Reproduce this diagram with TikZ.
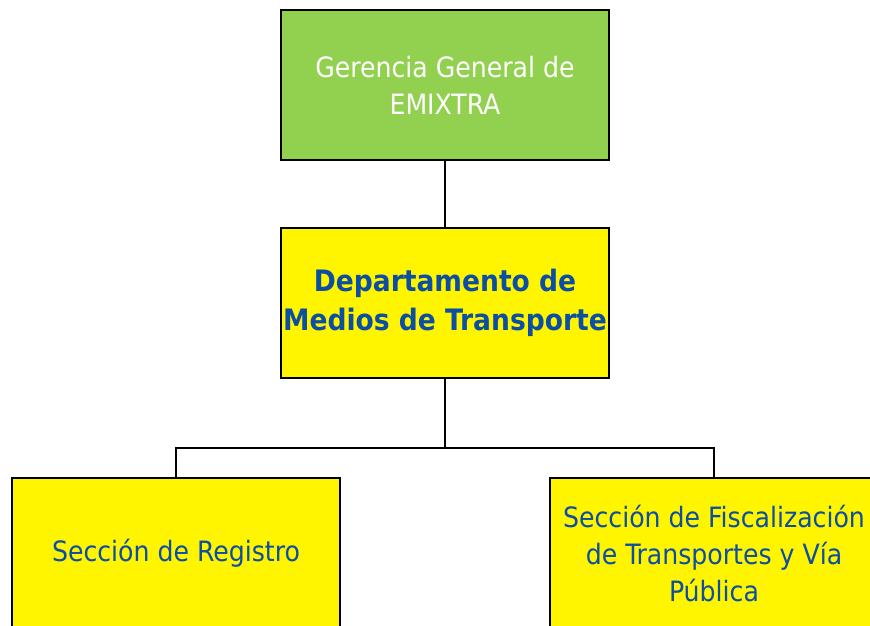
\documentclass[tikz,border=0pt]{standalone}
\usepackage{fontspec}
\setmainfont{DejaVu Sans Condensed}
\usepackage{xcolor}
\usetikzlibrary{positioning,calc}
\definecolor{boxgreen}{HTML}{92D050}
\definecolor{boxyellow}{HTML}{FFF500}
\definecolor{textblue}{HTML}{0B4EA2}

\begin{document}
\begin{tikzpicture}[x=1pt, y=-1pt,
    unit/.style={rectangle, draw=black, line width=1.6pt, minimum width=328pt, minimum height=150pt, inner sep=0pt, align=center, font=\fontsize{28}{37}\selectfont},
    gerencia/.style={unit, fill=boxgreen, text=white},
    depto/.style={unit, fill=boxyellow, text=textblue, font=\fontsize{29.5}{39}\selectfont\bfseries},
    seccion/.style={unit, fill=boxyellow, text=textblue},
    conn/.style={line width=1.6pt, black}
]
\useasboundingbox (0,0) rectangle (870,625);
\clip (0,0) rectangle (870,625);

% Units
\node[gerencia] (gerencia) at (445,85) {Gerencia General de\\EMIXTRA};
\node[depto] (medios) at (445,303) {Departamento de\\Medios de Transporte};
\node[seccion] (registro) at (176,553) {Secci\'on de Registro};
\node[seccion] (fiscal) at (714,553) {Secci\'on de Fiscalizaci\'on\\de Transportes y V\'ia\\P\'ublica};

% Connectors
\coordinate (bus) at (445,448);
\draw[conn] (gerencia.south) -- (medios.north);
\draw[conn] (medios.south) -- (bus);
\draw[conn] (bus) -| (registro.north);
\draw[conn] (bus) -| (fiscal.north);

\end{tikzpicture}
\end{document}
